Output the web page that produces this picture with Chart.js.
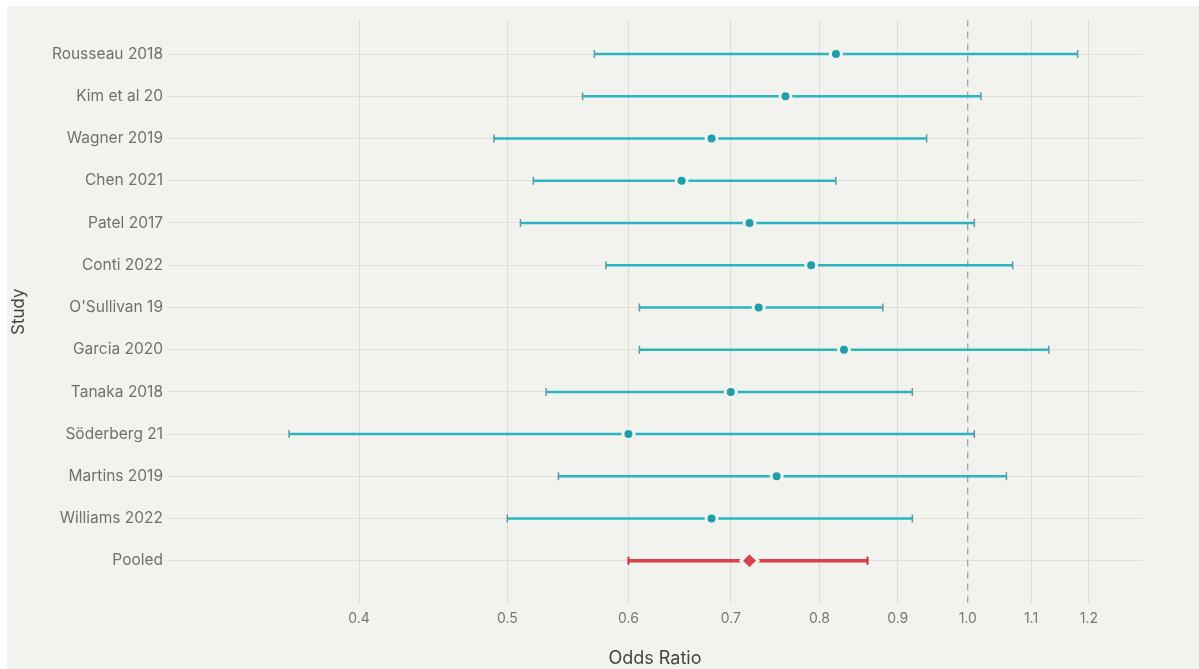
<!DOCTYPE html>
<html>
<head>
<meta charset="utf-8">
<script src="https://cdn.jsdelivr.net/npm/chart.js@4.4.1/dist/chart.umd.min.js"></script>
<style>
  body { margin: 0; background: #ffffff; }
  #wrap { position: absolute; left: 7px; top: 6px; width: 1192px; height: 663px; background: #f2f2ee; }
</style>
</head>
<body>
<div id="wrap"><canvas id="forest"></canvas></div>
<script>
// Datos del forest plot
const studies = ["Rousseau 2018", "Kim et al 20", "Wagner 2019", "Chen 2021", "Patel 2017", "Conti 2022",
    "O'Sullivan 19", "Garcia 2020", "Tanaka 2018", "Söderberg 21", "Martins 2019", "Williams 2022", "Pooled"];
const oddsRatio = [0.82, 0.76, 0.68, 0.65, 0.72, 0.79, 0.73, 0.83, 0.70, 0.60, 0.75, 0.68, 0.72];
const lower = [0.57, 0.56, 0.49, 0.52, 0.51, 0.58, 0.61, 0.61, 0.53, 0.36, 0.54, 0.50, 0.60];
const upper = [1.18, 1.02, 0.94, 0.82, 1.01, 1.07, 0.88, 1.13, 0.92, 1.01, 1.06, 0.92, 0.86];
const xTicks = [0.4, 0.5, 0.6, 0.7, 0.8, 0.9, 1.0, 1.1, 1.2];

const teal = "#2cb4c0";
const tealDot = "#1d9fac";
const red = "#d8434a";
const bg = "#f2f2ee";
const pooledIdx = studies.indexOf("Pooled");

// una línea por estudio (intervalo de confianza)
const ciSets = studies.map((s, i) => ({
    type: "line",
    data: [{ x: lower[i], y: i }, { x: upper[i], y: i }],
    borderColor: i === pooledIdx ? red : teal,
    borderWidth: i === pooledIdx ? 3.5 : 2.5,
    pointStyle: "line",
    rotation: 90,
    pointRadius: 4,
    pointBorderWidth: i === pooledIdx ? 2 : 1.5,
    pointBorderColor: i === pooledIdx ? "#c9363d" : "#5d9aa0",
    order: 2
}));

const estSet = {
    type: "scatter",
    data: oddsRatio.map((v, i) => ({ x: v, y: i })),
    pointStyle: studies.map((s, i) => i === pooledIdx ? "rectRot" : "circle"),
    pointRadius: studies.map((s, i) => i === pooledIdx ? 8.5 : 5.5),
    pointBackgroundColor: studies.map((s, i) => i === pooledIdx ? red : tealDot),
    pointBorderColor: bg,
    pointBorderWidth: 3,
    order: 0
};

const refLine = {
    type: "line",
    data: [{ x: 1, y: -0.82 }, { x: 1, y: 13 }],
    borderColor: "#9a9a96",
    borderWidth: 1.2,
    borderDash: [7, 5],
    pointRadius: 0,
    order: 3
};

const fontFam = "Inter, 'Noto Sans', sans-serif";

new Chart(document.getElementById("forest"), {
    type: "scatter",
    data: { datasets: [estSet, ...ciSets, refLine] },
    options: {
        responsive: true,
        maintainAspectRatio: false,
        animation: false,
        layout: { padding: { left: 0, top: 10, right: 57, bottom: 0 } },
        plugins: { legend: { display: false }, tooltip: { enabled: false } },
        scales: {
            x: {
                type: "logarithmic",
                min: 0.3,
                max: 1.3,
                afterBuildTicks: s => { s.ticks = xTicks.map(v => ({ value: v })); },
                afterFit: s => { s.height = 66; },
                ticks: {
                    callback: v => Number(v).toFixed(1),
                    color: "#777",
                    font: { family: fontFam, size: 14 },
                    padding: 7,
                    maxRotation: 0
                },
                grid: {
                    color: c => (c.tick && c.tick.value === 1) ? "rgba(0,0,0,0)" : "#dcdcd7",
                    drawTicks: false
                },
                border: { display: false },
                title: {
                    display: true,
                    text: "Odds Ratio",
                    color: "#444",
                    font: { family: fontFam, size: 18 },
                    padding: { top: 0, bottom: 0 }
                }
            },
            y: {
                type: "linear",
                reverse: true,
                min: -0.8,
                max: 13,
                afterBuildTicks: s => { s.ticks = studies.map((n, i) => ({ value: i })); },
                afterFit: s => { s.width = 161; },
                ticks: {
                    callback: v => studies[v],
                    color: "#707070",
                    font: { family: fontFam, size: 15.5 },
                    padding: 5
                },
                grid: { color: "#e0dfda", drawTicks: false },
                border: { display: false },
                title: {
                    display: true,
                    text: "Study",
                    color: "#444",
                    font: { family: fontFam, size: 17 },
                    padding: { top: 2, bottom: 0 }
                }
            }
        }
    }
});
</script>
</body>
</html>
